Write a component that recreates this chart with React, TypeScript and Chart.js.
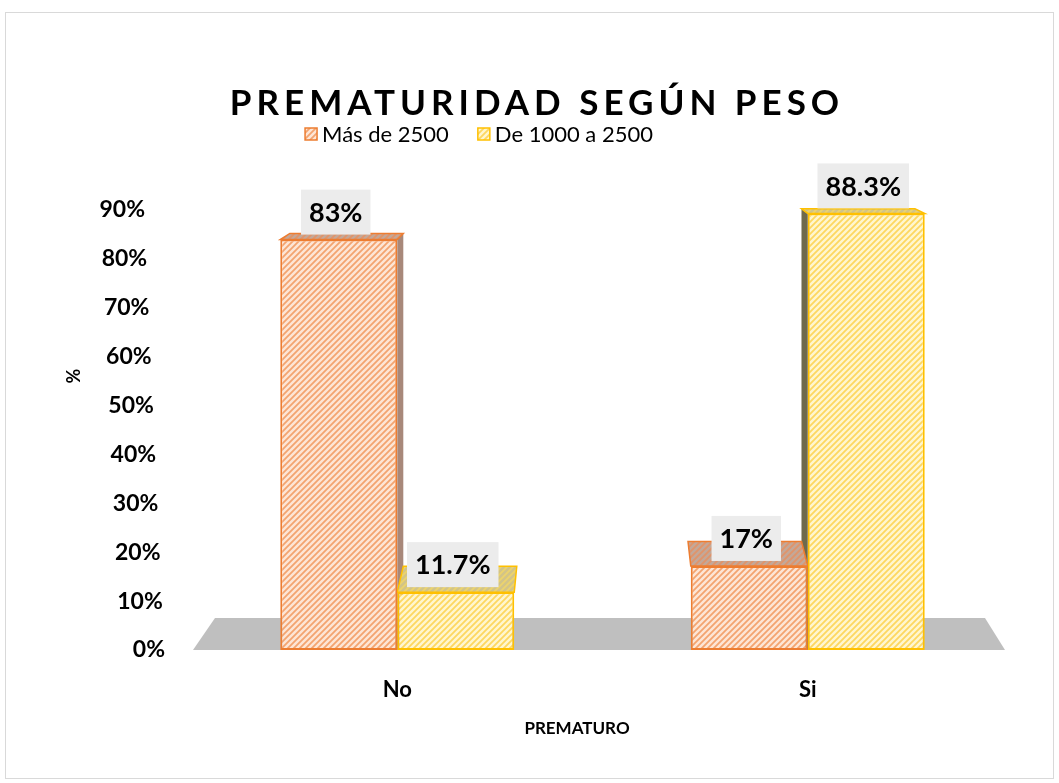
import React, { useEffect, useRef } from "react";
import { Chart, registerables } from "chart.js";

Chart.register(...registerables);

// ---- data ----
const categories = ["No", "Si"];
const seriesNames = ["Más de 2500", "De 1000 a 2500"];
const masDe2500 = [83, 17];
const de1000a2500 = [11.7, 88.3];
const yTickValues = [0, 10, 20, 30, 40, 50, 60, 70, 80, 90];
const chartTitle = "PREMATURIDAD SEGÚN PESO";
const xAxisTitle = "PREMATURO";
const yAxisTitle = "%";

const FONT = "Lato, 'Open Sans', sans-serif";

function hatch(bg: string, fg: string, lw = 1.8, size = 6): CanvasPattern | string {
  const c = document.createElement("canvas");
  c.width = size;
  c.height = size;
  const g = c.getContext("2d");
  if (!g) return bg;
  g.fillStyle = bg;
  g.fillRect(0, 0, size, size);
  g.strokeStyle = fg;
  g.lineWidth = lw;
  g.beginPath();
  g.moveTo(-1, size + 1);
  g.lineTo(size + 1, -1);
  g.moveTo(-1, 1);
  g.lineTo(1, -1);
  g.moveTo(size - 1, size + 1);
  g.lineTo(size + 1, size - 1);
  g.stroke();
  const p = g.createPattern(c, "repeat");
  return p || bg;
}

export default function App() {
  const ref = useRef<HTMLCanvasElement | null>(null);

  useEffect(() => {
    const canvas = ref.current;
    if (!canvas) return;
    const ctx0 = canvas.getContext("2d");
    if (!ctx0) return;

    const frontOrange = hatch("#fde6d6", "#f3a470");
    const frontYellow = hatch("#fff6cf", "#fdd760");
    const topOrange = hatch("#c4a898", "#e0946a");
    const topYellow = hatch("#d2c488", "#ecd36c");
    const sideColors = ["#a8887a", "#6f6a4c"];
    const topPatterns = [topOrange, topYellow];
    const borderColors = ["#ed7d31", "#ffc000"];
    const frontPatterns = [frontOrange, frontYellow];

    const persp = (x: number) => (599 - x) * 0.03;
    const depth = (yt: number) => Math.max(4, 6 + 0.056 * (yt - 237));

    const deco = {
      id: "deco3d",
      beforeDraw(chart: any) {
        const ctx = chart.ctx;
        ctx.save();
        ctx.fillStyle = "#ffffff";
        ctx.fillRect(0, 0, chart.width, chart.height);
        ctx.strokeStyle = "#d9d9d9";
        ctx.lineWidth = 1;
        ctx.strokeRect(5.5, 12.5, 1048, 766);
        ctx.restore();
      },
      beforeDatasetsDraw(chart: any) {
        const ctx = chart.ctx;
        const a = chart.chartArea;
        ctx.save();
        // floor
        ctx.fillStyle = "#bfbfbf";
        ctx.beginPath();
        ctx.moveTo(a.left + 1, a.bottom);
        ctx.lineTo(a.right - 8, a.bottom);
        ctx.lineTo(a.right - 28, a.bottom - 32);
        ctx.lineTo(a.left + 23, a.bottom - 32);
        ctx.closePath();
        ctx.fill();

        const bars: any[] = [];
        chart.data.datasets.forEach((ds: any, di: number) => {
          const meta = chart.getDatasetMeta(di);
          meta.data.forEach((el: any, i: number) => {
            const p = el.getProps(["x", "y", "base", "width"], true);
            bars.push({ di, i, x1: p.x - p.width / 2, x2: p.x + p.width / 2, yt: p.y, yb: p.base });
          });
        });
        // side faces
        bars.forEach((b) => {
          const leftSide = b.x1 > 599;
          const ex = leftSide ? b.x1 : b.x2;
          const dx = persp(ex);
          if (Math.abs(dx) < 4) return;
          const dy = depth(b.yt);
          ctx.fillStyle = sideColors[b.di];
          ctx.beginPath();
          ctx.moveTo(ex, b.yt);
          ctx.lineTo(ex + dx, b.yt - dy);
          ctx.lineTo(ex + dx, b.yb - dy);
          ctx.lineTo(ex, b.yb);
          ctx.closePath();
          ctx.fill();
        });
        // top faces
        bars.forEach((b) => {
          const dy = depth(b.yt);
          ctx.fillStyle = topPatterns[b.di];
          ctx.strokeStyle = borderColors[b.di];
          ctx.lineWidth = 1.5;
          ctx.beginPath();
          ctx.moveTo(b.x1, b.yt);
          ctx.lineTo(b.x2, b.yt);
          ctx.lineTo(b.x2 + persp(b.x2), b.yt - dy);
          ctx.lineTo(b.x1 + persp(b.x1), b.yt - dy);
          ctx.closePath();
          ctx.fill();
          ctx.stroke();
        });
        ctx.restore();
      },
      afterDatasetsDraw(chart: any) {
        const ctx = chart.ctx;
        const a = chart.chartArea;
        const yScale = chart.scales.y;
        const xScale = chart.scales.x;
        ctx.save();

        // data labels
        chart.data.datasets.forEach((ds: any, di: number) => {
          const meta = chart.getDatasetMeta(di);
          meta.data.forEach((el: any, i: number) => {
            const p = el.getProps(["x", "y"], true);
            const txt = ds.data[i] + "%";
            ctx.font = `bold 27px ${FONT}`;
            const w = ctx.measureText(txt).width;
            const bw = w + 16;
            const bh = 45;
            const bottom = p.y - 5;
            ctx.fillStyle = "#ececec";
            ctx.fillRect(p.x - bw / 2 - 3, bottom - bh, bw, bh);
            ctx.fillStyle = "#000000";
            ctx.textAlign = "center";
            ctx.textBaseline = "middle";
            ctx.fillText(txt, p.x - 3, bottom - bh / 2 + 1);
          });
        });

        // y ticks (on the back wall, slanted by perspective)
        ctx.font = `bold 23px ${FONT}`;
        ctx.fillStyle = "#000000";
        ctx.textAlign = "right";
        ctx.textBaseline = "middle";
        yScale.ticks.forEach((t: any) => {
          const yf = yScale.getPixelForValue(t.value);
          const y = a.bottom - (a.bottom - yf) * 0.989;
          const x = a.left - 27 - (a.bottom - y) * 0.0455;
          ctx.fillText(t.value + "%", x, y);
        });

        // y title
        ctx.save();
        ctx.translate(74, 376);
        ctx.rotate(-Math.PI / 2);
        ctx.font = `bold 18px ${FONT}`;
        ctx.textAlign = "center";
        ctx.textBaseline = "middle";
        ctx.fillText(yAxisTitle, 0, 0);
        ctx.restore();

        // x labels
        ctx.font = `bold 22px ${FONT}`;
        ctx.textAlign = "center";
        ctx.textBaseline = "middle";
        chart.data.labels.forEach((lab: string, i: number) => {
          ctx.fillText(lab, xScale.getPixelForTick(i), a.bottom + 40);
        });

        // x title
        ctx.font = `bold 17px ${FONT}`;
        ctx.fillText(xAxisTitle, 577, 729);

        // title
        ctx.font = `bold 35px ${FONT}`;
        (ctx as any).letterSpacing = "5px";
        ctx.textAlign = "center";
        ctx.fillText(chartTitle, 537, 104);
        (ctx as any).letterSpacing = "0px";

        // legend
        ctx.font = `22px ${FONT}`;
        const items = chart.data.datasets.map((d: any) => d.label);
        const box = 12;
        const gap = 5;
        const itemGap = 29;
        const widths = items.map((s: string) => box + gap + ctx.measureText(s).width);
        const total = widths.reduce((s: number, w: number) => s + w, 0) + itemGap * (items.length - 1);
        let lx = 479 - total / 2;
        const ly = 134;
        ctx.textAlign = "left";
        items.forEach((s: string, i: number) => {
          ctx.fillStyle = frontPatterns[i];
          ctx.fillRect(lx, ly - box / 2, box, box);
          ctx.strokeStyle = borderColors[i];
          ctx.lineWidth = 1.5;
          ctx.strokeRect(lx, ly - box / 2, box, box);
          ctx.fillStyle = "#000000";
          ctx.fillText(s, lx + box + gap, ly + 1);
          lx += widths[i] + itemGap;
        });

        ctx.restore();
      },
    };

    const chart = new Chart(ctx0, {
      type: "bar",
      data: {
        labels: categories,
        datasets: [
          {
            label: seriesNames[0],
            data: masDe2500,
            backgroundColor: frontOrange as any,
            borderColor: borderColors[0],
            borderWidth: 2,
            borderSkipped: false,
          },
          {
            label: seriesNames[1],
            data: de1000a2500,
            backgroundColor: frontYellow as any,
            borderColor: borderColors[1],
            borderWidth: 2,
            borderSkipped: false,
          },
        ],
      },
      options: {
        responsive: false,
        animation: false,
        devicePixelRatio: 1,
        layout: { padding: { left: 192, right: 46, top: 205, bottom: 133 } },
        datasets: { bar: { categoryPercentage: 0.57, barPercentage: 1.0 } },
        scales: {
          x: { display: false },
          y: {
            display: false,
            min: 0,
            max: 90,
            afterBuildTicks: (scale: any) => {
              scale.ticks = yTickValues.map((v) => ({ value: v }));
            },
          },
        },
        plugins: {
          legend: { display: false },
          title: { display: false },
          tooltip: { enabled: false },
        },
      },
      plugins: [deco],
    });

    return () => chart.destroy();
  }, []);

  return (
    <div style={{ position: "absolute", left: 0, top: 0, width: 1059, height: 783 }}>
      <canvas ref={ref} width={1059} height={783} style={{ display: "block" }} />
    </div>
  );
}
